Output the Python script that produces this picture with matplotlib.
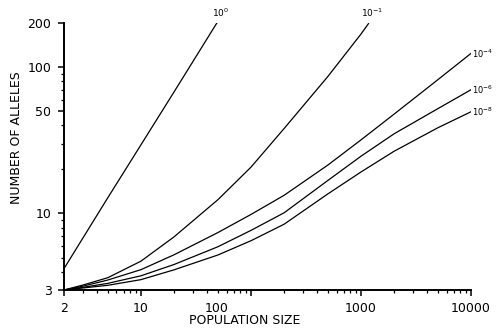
import matplotlib
matplotlib.use("Agg")
import matplotlib.pyplot as plt
from matplotlib.ticker import FixedLocator, NullFormatter
from matplotlib.transforms import ScaledTranslation

# population size (x) and expected number of alleles for each curve
pop_main = [2, 3, 5, 10, 20, 50, 100, 200, 500, 1000, 2000, 5000, 10000]

pop_u0 = [2, 5, 10, 20, 49]
alleles_u0 = [4.2, 12.8, 29.4, 67.6, 200]

pop_u1 = [2, 3, 5, 10, 20, 50, 100, 200, 500, 1000, 1170]
alleles_u1 = [3.0, 3.25, 3.64, 4.72, 6.92, 12.4, 20.7, 38.0, 86.2, 168, 198]

alleles_u4 = [3.0, 3.19, 3.51, 4.13, 5.22, 7.40, 9.84, 13.3, 21.4, 31.8, 47.7, 82.0, 124]
alleles_u6 = [3.0, 3.13, 3.33, 3.75, 4.48, 5.92, 7.66, 10.1, 16.8, 24.6, 35.0, 52.0, 70.0]
alleles_u8 = [3.0, 3.10, 3.23, 3.53, 4.12, 5.20, 6.51, 8.44, 13.6, 19.2, 26.6, 38.5, 49.5]

curve_labels = ["$10^{0}$", "$10^{-1}$", "$10^{-4}$", "$10^{-6}$", "$10^{-8}$"]

x_ticks = [2, 10, 100, 1000, 10000]
y_ticks = [3, 10, 50, 100, 200]

plt.rcParams["font.family"] = "DejaVu Sans"
plt.rcParams["mathtext.fontset"] = "dejavusans"

fig = plt.figure(figsize=(4.96, 3.32), dpi=100)
ax = fig.add_axes([64 / 496, 1 - 290 / 332, (471 - 64) / 496, (290 - 23) / 332])

lw = 0.9
ax.plot(pop_u0, alleles_u0, color="black", lw=lw)
ax.plot(pop_u1, alleles_u1, color="black", lw=lw)
ax.plot(pop_main, alleles_u4, color="black", lw=lw)
ax.plot(pop_main, alleles_u6, color="black", lw=lw)
ax.plot(pop_main, alleles_u8, color="black", lw=lw)

ax.set_xscale("log")
ax.set_yscale("log")
ax.set_xlim(2, 10000)
ax.set_ylim(3, 200)

# curve labels at the ends of the lines
ax.annotate(curve_labels[0], (pop_u0[-1], alleles_u0[-1]), xytext=(3, 3),
            textcoords="offset points", ha="center", va="bottom", fontsize=6.5)
ax.annotate(curve_labels[1], (pop_u1[-1], alleles_u1[-1]), xytext=(3, 3),
            textcoords="offset points", ha="center", va="bottom", fontsize=6.5)
for ys, lab in zip([alleles_u4, alleles_u6, alleles_u8], curve_labels[2:]):
    ax.annotate(lab, (pop_main[-1], ys[-1]), xytext=(1, 0),
                textcoords="offset points", ha="left", va="center", fontsize=6)

minor_x = [m * 10 ** d for d in range(0, 4) for m in range(2, 10) if 2 < m * 10 ** d < 10000]
minor_y = [4, 5, 6, 7, 8, 9, 20, 30, 40, 60, 70, 80, 90]
ax.xaxis.set_major_locator(FixedLocator(x_ticks))
ax.xaxis.set_minor_locator(FixedLocator(minor_x))
ax.yaxis.set_major_locator(FixedLocator(y_ticks))
ax.yaxis.set_minor_locator(FixedLocator(minor_y))
ax.set_xticklabels([str(t) for t in x_ticks])
ax.set_yticklabels([str(t) for t in y_ticks])
ax.xaxis.set_minor_formatter(NullFormatter())
ax.yaxis.set_minor_formatter(NullFormatter())

for s in ["top", "right"]:
    ax.spines[s].set_visible(False)
for s in ["left", "bottom"]:
    ax.spines[s].set_linewidth(1.4)

ax.tick_params(which="major", direction="out", length=4, width=1.1,
               labelsize=9, pad=5)
ax.tick_params(which="minor", direction="out", length=2.5, width=0.9)

# the "100" label sits left of its tick in the original
for lbl in ax.get_xticklabels():
    if lbl.get_text() == "100":
        lbl.set_transform(lbl.get_transform() + ScaledTranslation(-0.34, 0, fig.dpi_scale_trans))

ax.set_xlabel("POPULATION SIZE", fontsize=9)
ax.set_ylabel("NUMBER OF ALLELES", fontsize=9)
ax.xaxis.set_label_coords(0.445, -0.09)
ax.yaxis.set_label_coords(-0.1, 0.57)

fig.savefig("out.png", dpi=100)
